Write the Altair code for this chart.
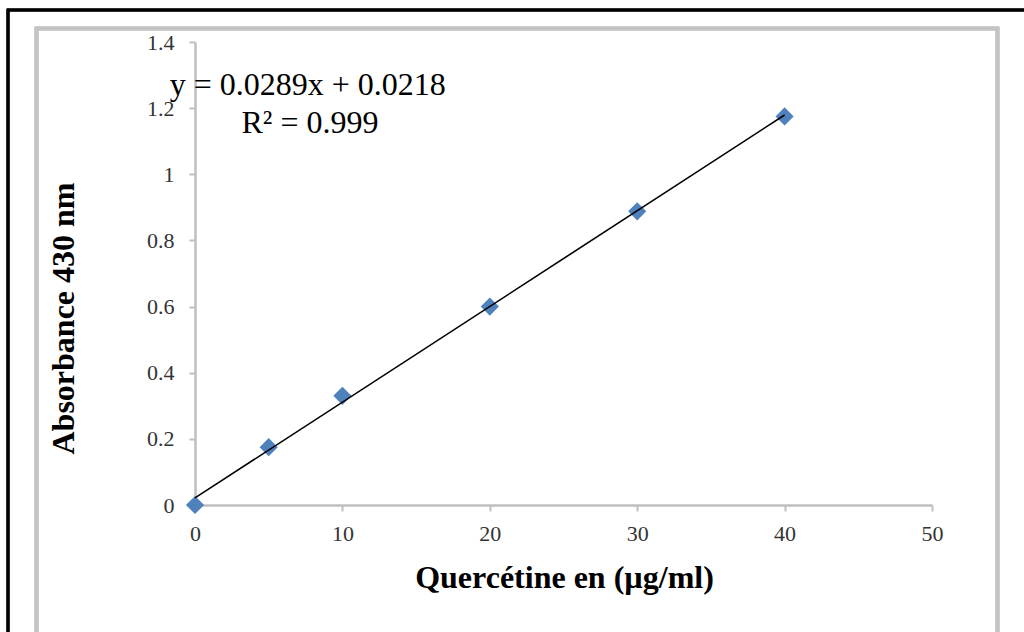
import altair as alt
import pandas as pd

# Data
concentration = [0, 5, 10, 20, 30, 40]
absorbance = [0.0, 0.175, 0.33, 0.60, 0.888, 1.175]

x_ticks = [0, 10, 20, 30, 40, 50]
y_ticks = [0, 0.2, 0.4, 0.6, 0.8, 1.0, 1.2, 1.4]

equation_lines = ["y = 0.0289x + 0.0218", "R² = 0.999"]
equation_x = [7.65, 7.8]
equation_y = [1.24, 1.125]

x_title = "Quercétine en (µg/ml)"
y_title = "Absorbance 430 nm"

df = pd.DataFrame({"conc": concentration, "abs": absorbance})
eq_df = pd.DataFrame({"label": equation_lines, "x": equation_x, "y": equation_y})

SERIF = "Liberation Serif"
AXIS_GRAY = "#bfbfbf"

x_enc = alt.X(
    "conc:Q",
    scale=alt.Scale(domain=[0, 50], nice=False, zero=True),
    axis=alt.Axis(
        values=x_ticks,
        title=x_title,
        titleFont=SERIF,
        titleFontSize=32,
        titleFontWeight="bold",
        titleColor="#000000",
        titleX=369,
        titleY=82,
        titleBaseline="alphabetic",
        titleAlign="center",
        labelFont=SERIF,
        labelFontSize=22,
        labelColor="#333333",
        labelPadding=12,
        labelFlush=False,
        labelOverlap=False,
        tickSize=6,
        tickColor=AXIS_GRAY,
        tickWidth=2,
        domainColor=AXIS_GRAY,
        domainWidth=2.5,
        grid=False,
    ),
)
y_enc = alt.Y(
    "abs:Q",
    scale=alt.Scale(domain=[0, 1.4], nice=False, zero=True),
    axis=alt.Axis(
        values=y_ticks,
        format=".1~f",
        title=y_title,
        titleFont=SERIF,
        titleFontSize=32,
        titleFontWeight="bold",
        titleColor="#000000",
        titleAngle=-90,
        titleX=-122,
        titleY=276,
        titleBaseline="alphabetic",
        titleAlign="center",
        labelFont=SERIF,
        labelFontSize=22,
        labelColor="#333333",
        labelPadding=15,
        labelFlush=False,
        labelOverlap=False,
        tickSize=6,
        tickColor=AXIS_GRAY,
        tickWidth=2,
        domainColor=AXIS_GRAY,
        domainWidth=2.5,
        grid=False,
    ),
)

base = alt.Chart(df)

points = base.mark_point(
    shape="diamond", filled=True, size=330, color="#4F81BD", opacity=1
).encode(x=x_enc, y=y_enc)

trend = (
    base.transform_regression("conc", "abs", extent=[0, 40])
    .mark_line(color="#000000", strokeWidth=1.6)
    .encode(x="conc:Q", y="abs:Q")
)

equation = alt.Chart(eq_df).mark_text(
    font=SERIF, fontSize=32, color="#000000", align="center", baseline="alphabetic"
).encode(x="x:Q", y="y:Q", text="label:N")

outer_frame = alt.Chart(df).mark_rect(
    fillOpacity=0, stroke="#000000", strokeWidth=2.5
).encode(
    x=alt.value(-187), x2=alt.value(1100), y=alt.value(-32), y2=alt.value(800)
)

inner_frame = alt.Chart(df).mark_rect(
    fillOpacity=0, stroke="#c4c4c4", strokeWidth=3.5
).encode(
    x=alt.value(-158.5), x2=alt.value(802.5), y=alt.value(-13.5), y2=alt.value(800)
)

chart = (
    alt.layer(outer_frame, inner_frame, points, trend, equation)
    .properties(
        width=737,
        height=463,
        autosize=alt.AutoSizeParams(type="none"),
        padding={"left": 195, "top": 42, "right": 92, "bottom": 127},
        background="#ffffff",
    )
    .configure_view(stroke=None)
)

chart.save("out.html", embed_options={"renderer": "svg", "actions": False})
